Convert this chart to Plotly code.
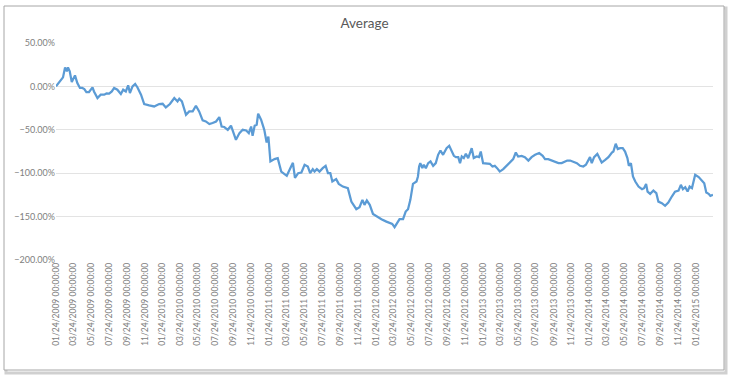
import plotly.graph_objects as go

dates = [
    "2009-01-24", "2009-02-09", "2009-02-17", "2009-02-24", "2009-03-02", "2009-03-06", "2009-03-12", "2009-03-19",
    "2009-03-30", "2009-04-07", "2009-04-16", "2009-04-24", "2009-05-01", "2009-05-08", "2009-05-17", "2009-05-29",
    "2009-06-03", "2009-06-15", "2009-06-26", "2009-07-08", "2009-07-16", "2009-07-25", "2009-08-03", "2009-08-11",
    "2009-08-22", "2009-09-03", "2009-09-11", "2009-09-20", "2009-09-28", "2009-10-04", "2009-10-13", "2009-10-22",
    "2009-10-30", "2009-11-11", "2009-11-22", "2009-12-09", "2009-12-26", "2010-01-12", "2010-01-24", "2010-02-04",
    "2010-02-18", "2010-03-05", "2010-03-16", "2010-03-22", "2010-03-31", "2010-04-14", "2010-04-25", "2010-05-07",
    "2010-05-18", "2010-05-29", "2010-06-10", "2010-06-21", "2010-07-03", "2010-07-14", "2010-07-26", "2010-08-06",
    "2010-08-14", "2010-08-23", "2010-09-04", "2010-09-15", "2010-09-21", "2010-10-02", "2010-10-14", "2010-10-25",
    "2010-11-06", "2010-11-15", "2010-11-23", "2010-11-28", "2010-12-05", "2010-12-12", "2010-12-17", "2010-12-27",
    "2011-01-07", "2011-01-15", "2011-01-21", "2011-01-28", "2011-02-11", "2011-02-22", "2011-03-06", "2011-03-17",
    "2011-03-25", "2011-04-06", "2011-04-15", "2011-04-22", "2011-05-03", "2011-05-14", "2011-05-25", "2011-06-05",
    "2011-06-13", "2011-06-22", "2011-06-28", "2011-07-06", "2011-07-15", "2011-07-26", "2011-08-05", "2011-08-13",
    "2011-08-21", "2011-08-28", "2011-09-10", "2011-09-19", "2011-10-03", "2011-10-20", "2011-11-01", "2011-11-18",
    "2011-11-29", "2011-12-09", "2011-12-16", "2011-12-24", "2012-01-03", "2012-01-14", "2012-01-28", "2012-02-12",
    "2012-02-29", "2012-03-11", "2012-03-20", "2012-03-28", "2012-04-05", "2012-04-14", "2012-04-26", "2012-05-05",
    "2012-05-13", "2012-05-21", "2012-05-30", "2012-06-11", "2012-06-16", "2012-06-20", "2012-06-24", "2012-07-01",
    "2012-07-06", "2012-07-13", "2012-07-21", "2012-07-29", "2012-08-07", "2012-08-16", "2012-08-24", "2012-09-01",
    "2012-09-10", "2012-09-22", "2012-10-01", "2012-10-09", "2012-10-17", "2012-10-24", "2012-11-01", "2012-11-07",
    "2012-11-13", "2012-11-20", "2012-11-27", "2012-12-05", "2012-12-11", "2012-12-17", "2012-12-24", "2013-01-03",
    "2013-01-11", "2013-01-17", "2013-01-25", "2013-02-06", "2013-02-17", "2013-02-26", "2013-03-06", "2013-03-14",
    "2013-03-23", "2013-04-04", "2013-04-15", "2013-04-27", "2013-05-08", "2013-05-17", "2013-05-25", "2013-06-06",
    "2013-06-17", "2013-06-29", "2013-07-10", "2013-07-22", "2013-08-05", "2013-08-17", "2013-08-25", "2013-09-05",
    "2013-09-17", "2013-09-28", "2013-10-10", "2013-10-21", "2013-11-01", "2013-11-09", "2013-11-19", "2013-11-30",
    "2013-12-12", "2013-12-23", "2014-01-03", "2014-01-12", "2014-01-26", "2014-02-01", "2014-02-09", "2014-02-20",
    "2014-03-01", "2014-03-07", "2014-03-19", "2014-03-30", "2014-04-11", "2014-04-16", "2014-04-24", "2014-05-01",
    "2014-05-09", "2014-05-18", "2014-05-26", "2014-06-03", "2014-06-08", "2014-06-15", "2014-06-22", "2014-06-30",
    "2014-07-11", "2014-07-23", "2014-07-30", "2014-08-06", "2014-08-11", "2014-08-20", "2014-08-31", "2014-09-10",
    "2014-09-17", "2014-09-29", "2014-10-10", "2014-10-21", "2014-11-02", "2014-11-13", "2014-11-25", "2014-12-03",
    "2014-12-10", "2014-12-18", "2014-12-26", "2015-01-02", "2015-01-10", "2015-01-21", "2015-02-02", "2015-02-13",
    "2015-02-21", "2015-02-28", "2015-03-08", "2015-03-14", "2015-03-23",
]

average_pct = [
    0.0, 7.7, 10.4, 21.9, 17.3, 21.9, 17.3, 5.1,
    12.7, 3.9, -1.8, -1.8, -3.0, -6.5, -6.5, -1.2,
    -5.8, -13.4, -9.6, -9.6, -8.1, -8.4, -5.8, -1.8,
    -3.8, -8.8, -3.8, -5.8, 1.2, -7.6, 0.0, 2.8,
    -1.2, -9.6, -20.3, -21.9, -23.1, -20.3, -20.0, -24.2,
    -20.3, -13.4, -17.3, -14.2, -17.3, -32.7, -28.8, -28.8,
    -22.3, -28.8, -39.2, -40.4, -43.4, -42.2, -40.4, -35.3,
    -46.2, -46.8, -50.0, -45.3, -51.9, -61.5, -53.8, -50.0,
    -50.8, -53.8, -46.2, -56.9, -45.4, -44.2, -31.5, -38.4,
    -50.0, -64.6, -57.7, -86.5, -83.8, -82.6, -98.1, -100.8,
    -103.0, -94.2, -88.0, -105.4, -100.0, -99.2, -90.3, -92.3,
    -99.9, -95.3, -98.1, -95.3, -98.1, -94.2, -91.5, -99.9,
    -99.9, -109.6, -106.8, -112.3, -115.4, -117.2, -132.7, -141.5,
    -139.2, -130.7, -136.5, -131.5, -136.5, -146.9, -150.0, -153.0,
    -155.8, -157.6, -158.4, -162.2, -157.6, -153.0, -153.0, -144.2,
    -141.5, -130.7, -112.3, -109.6, -103.8, -92.3, -88.4, -94.2,
    -90.3, -94.2, -88.4, -86.5, -91.5, -88.4, -78.8, -73.8,
    -78.8, -71.1, -68.4, -73.8, -80.0, -81.5, -81.5, -88.4,
    -80.8, -82.6, -77.7, -82.6, -77.7, -71.1, -82.6, -80.8,
    -81.5, -75.0, -88.4, -89.2, -89.2, -92.3, -91.5, -94.2,
    -98.1, -95.3, -91.5, -87.7, -83.8, -76.2, -80.8, -80.0,
    -81.5, -85.4, -81.5, -78.8, -76.8, -80.0, -83.8, -83.8,
    -85.4, -86.5, -88.4, -88.4, -86.5, -85.4, -85.4, -86.5,
    -88.4, -91.5, -92.3, -90.3, -81.5, -88.4, -81.5, -77.7,
    -83.8, -87.7, -84.6, -81.5, -76.2, -75.0, -66.1, -72.2,
    -71.1, -71.1, -75.0, -82.6, -91.5, -88.4, -103.8, -109.6,
    -115.4, -118.4, -117.2, -112.3, -121.2, -123.8, -120.0, -123.0,
    -132.7, -134.5, -137.6, -133.8, -126.9, -121.2, -120.0, -113.4,
    -118.4, -116.1, -121.2, -115.4, -117.2, -101.9, -104.5, -108.5,
    -111.5, -122.3, -123.8, -126.1, -125.0,
]

tick_dates = [
    "2009-01-24", "2009-03-24", "2009-05-24", "2009-07-24", "2009-09-24", "2009-11-24",
    "2010-01-24", "2010-03-24", "2010-05-24", "2010-07-24", "2010-09-24", "2010-11-24",
    "2011-01-24", "2011-03-24", "2011-05-24", "2011-07-24", "2011-09-24", "2011-11-24",
    "2012-01-24", "2012-03-24", "2012-05-24", "2012-07-24", "2012-09-24", "2012-11-24",
    "2013-01-24", "2013-03-24", "2013-05-24", "2013-07-24", "2013-09-24", "2013-11-24",
    "2014-01-24", "2014-03-24", "2014-05-24", "2014-07-24", "2014-09-24", "2014-11-24",
    "2015-01-24",
]
tick_labels = [
    "01/24/2009 00:00:00", "03/24/2009 00:00:00", "05/24/2009 00:00:00", "07/24/2009 00:00:00",
    "09/24/2009 00:00:00", "11/24/2009 00:00:00", "01/24/2010 00:00:00", "03/24/2010 00:00:00",
    "05/24/2010 00:00:00", "07/24/2010 00:00:00", "09/24/2010 00:00:00", "11/24/2010 00:00:00",
    "01/24/2011 00:00:00", "03/24/2011 00:00:00", "05/24/2011 00:00:00", "07/24/2011 00:00:00",
    "09/24/2011 00:00:00", "11/24/2011 00:00:00", "01/24/2012 00:00:00", "03/24/2012 00:00:00",
    "05/24/2012 00:00:00", "07/24/2012 00:00:00", "09/24/2012 00:00:00", "11/24/2012 00:00:00",
    "01/24/2013 00:00:00", "03/24/2013 00:00:00", "05/24/2013 00:00:00", "07/24/2013 00:00:00",
    "09/24/2013 00:00:00", "11/24/2013 00:00:00", "01/24/2014 00:00:00", "03/24/2014 00:00:00",
    "05/24/2014 00:00:00", "07/24/2014 00:00:00", "09/24/2014 00:00:00", "11/24/2014 00:00:00",
    "01/24/2015 00:00:00",
]

W, H = 729, 376
ML, MR, MT, MB = 56, 16, 43, 116
pw, ph = W - ML - MR, H - MT - MB


def px_x(p):
    return (p - ML) / pw


def px_y(p):
    return (H - MB - p) / ph


fig = go.Figure()
fig.add_trace(go.Scatter(
    x=dates, y=average_pct, mode="lines",
    line=dict(color="#5B9BD5", width=2.25),
    name="Average", hoverinfo="skip",
))

grey = "#595959"
fig.update_layout(
    width=W, height=H,
    margin=dict(l=ML, r=MR, t=MT, b=MB),
    paper_bgcolor="white", plot_bgcolor="white",
    showlegend=False,
    title=dict(text="Average", x=0.5, xref="container", y=1 - 23 / H, yref="container",
               xanchor="center", yanchor="middle",
               font=dict(family="Lato", size=13.5, color=grey)),
    font=dict(family="Lato", color=grey),
    xaxis=dict(
        type="date", range=[dates[0], dates[-1]],
        tickmode="array", tickvals=tick_dates, ticktext=tick_labels,
        tickangle=-90, tickfont=dict(size=8.5, color="#808080", family="Lato"),
        showgrid=False, zeroline=False, showline=False, ticks="",
    ),
    yaxis=dict(
        range=[-200, 50], tickmode="linear", tick0=-200, dtick=50,
        tickformat=".2f", ticksuffix="%",
        tickfont=dict(size=9, color="#808080", family="Lato"),
        showgrid=True, gridcolor="#e3e3e3", gridwidth=1,
        zeroline=False, showline=False, ticks="",
    ),
    shapes=[
        dict(type="rect", xref="paper", yref="paper", layer="below",
             x0=px_x(6), x1=px_x(726), y0=px_y(8), y1=px_y(373),
             line=dict(color="#d0d0d0", width=3), fillcolor="rgba(0,0,0,0)"),
        dict(type="rect", xref="paper", yref="paper", layer="below",
             x0=px_x(4), x1=px_x(724), y0=px_y(6), y1=px_y(370),
             line=dict(color="#a6a6a6", width=1), fillcolor="white"),
    ],
)

fig.write_html(
    "out.html",
    config={"displayModeBar": False, "staticPlot": True},
    post_script="document.body.style.margin='0';document.body.style.overflow='hidden';",
)
